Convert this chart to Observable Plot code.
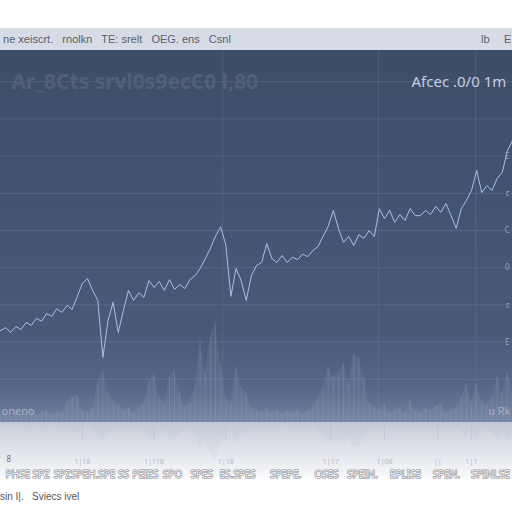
<!DOCTYPE html>
<html><head><meta charset="utf-8">
<script src="https://cdn.jsdelivr.net/npm/d3@7"></script>
<script src="https://cdn.jsdelivr.net/npm/@observablehq/plot@0.6"></script>
<style>
body{margin:0;background:#fff;width:512px;height:512px;overflow:hidden;position:relative;font-family:"Liberation Sans","DejaVu Sans",sans-serif;}
#bar{position:absolute;left:0;top:28px;width:512px;height:22px;background:#d6dbe5;color:#5a5f6b;font-size:11px;line-height:22px;white-space:nowrap;}
#bar .r{position:absolute;top:0;}
#chart{position:absolute;left:0;top:50px;}
#foot{position:absolute;left:0;top:491px;font-size:10px;color:#555;}
</style></head>
<body>
<div id="bar">&nbsp;ne xeiscrt.&nbsp;&nbsp; rnolkn&nbsp;&nbsp; TE: srelt&nbsp;&nbsp; OEG. ens&nbsp;&nbsp; Csnl<span class="r" style="left:481px">lb</span><span class="r" style="left:504px">E</span></div>
<div id="chart"></div>
<div id="foot">sin I|.&nbsp;&nbsp; Sviecs ivel</div>
<script>
const price = [43.1,43.9,42.6,44.2,43.4,45.3,44.5,46.4,45.6,47.7,
46.9,49.0,48.0,49.9,48.8,52.3,55.8,57.1,53.9,51.2,
35.9,45.8,50.7,42.6,48.5,53.9,51.2,53.3,52.0,56.6,
54.7,56.3,53.9,56.8,54.2,55.5,54.4,56.8,57.9,59.8,
62.5,65.2,68.5,71.0,66.2,52.3,59.8,56.6,51.2,57.9,
60.6,61.4,66.5,62.5,61.4,63.3,61.4,62.8,62.2,63.6,
63.0,64.6,65.7,68.4,71.1,75.4,70.6,66.8,68.4,66.0,
68.9,67.9,70.0,68.4,75.9,73.2,75.4,72.2,74.3,72.7,
75.9,74.0,74.0,75.4,74.3,76.5,74.9,77.3,74.0,70.6,
75.9,78.1,80.8,86.1,80.2,82.1,80.8,84.0,85.6,91.5,94.2];
const volume = [8,10,6,12,8,9,14,7,10,12,8,11,9,
20,25,28,12,10,14,40,52,
30,22,18,12,15,10,14,20,40,48,
25,18,45,52,30,15,20,35,82,50,
85,100,60,25,20,55,35,30,15,12,
10,14,10,12,9,11,10,13,8,12,
15,25,35,55,45,50,59,40,69,65,
45,20,15,12,18,10,12,15,10,22,
12,10,14,12,16,19,10,12,15,25,
39,20,39,22,18,25,45,30,50,35];
const yTicks = [20,30,40,50,60,70,80,90,100,110];
const yTickLabels = ["","","E","c","0","C","c","E","",""];
const xGrid = [43.4,73.8,92.8];
const xMinor = [16,30,44,64.5,75,85.4,92];
const xMinorLabels = ["1|18","1|118","1|18","1|17","1|08","||","1|1"];
const xTicks = [5.3,16.4,24,28.3,33.6,39.3,46.3,55.7,63.7,70.7,79.1,87.1,95.7];
const xTickLabels = ["PHSE SPZ","SPZSPEH.SPE","SS","PEIES","SPO","SPES","ES.SPES","SPEPE.","OSES","SPEIN.","EPLISE","SPEN.","SPINLSE"];
const titleLeft = "Ar_8Cts srvl0s9ecC0 l,80";
const titleRight = "Afcec .0/0 1m";

const yLo = 18.4, yHi = 118.4;
const rows = price.map((p, i) => ({i, p, v: volume[i]}));
const volY = v => yLo + v * 0.27;
const refY = v => yLo - v * 0.1;

const chart = Plot.plot({
  width: 512, height: 432,
  marginTop: 0, marginLeft: 0, marginRight: 0, marginBottom: 60,
  x: {domain: [0, 100], axis: null},
  y: {domain: [yLo, yHi], axis: null},
  marks: [
    Plot.ruleY(yTicks, {stroke: "#7f90ad", strokeOpacity: 0.3}),
    Plot.ruleX(xGrid, {y1: yLo, y2: yHi, stroke: "#7f90ad", strokeOpacity: 0.25}),
    Plot.ruleX(xMinor, {y1: yLo, y2: yLo - 4.8, stroke: "#b7bfcc", strokeOpacity: 0.5}),
    Plot.areaY(rows, {x: "i", y1: yLo, y2: d => volY(d.v), fill: "#b3c0d6", fillOpacity: 0.1}),
    Plot.ruleX(rows, {x: "i", y1: yLo, y2: d => volY(d.v), stroke: "#c0cbdd", strokeOpacity: 0.15}),
    Plot.areaY(rows, {x: "i", y1: yLo, y2: d => refY(d.v), fill: "#a4afc2", fillOpacity: 0.1}),
    Plot.lineY(rows, {x: "i", y: "p", stroke: "#a8c0e6", strokeWidth: 1}),
    Plot.text([titleLeft], {frameAnchor: "top-left", dx: 11, dy: 24, text: d => d, fill: "#506079", fontSize: 21, fontWeight: "bold"}),
    Plot.text([titleRight], {frameAnchor: "top-left", dx: 411, dy: 26, text: d => d, fill: "#c6cee0", fontSize: 15}),
    Plot.text(yTicks, {x: 100, y: d => d, text: (d, k) => yTickLabels[k], dx: -3, textAnchor: "end", fill: "#94a2ba", fontSize: 8}),
    Plot.text(["oneno"], {frameAnchor: "bottom-left", dx: 1, dy: -8, text: d => d, fill: "#a3aec1", fontSize: 11}),
    Plot.text(["u Rk"], {frameAnchor: "bottom-right", dx: -2, dy: -8, text: d => d, fill: "#a3aec1", fontSize: 11}),
    Plot.text(xMinor, {x: d => d, y: yLo, text: (d, k) => xMinorLabels[k], dy: 39, fill: "#b0b7c3", fontSize: 7}),
    Plot.text(["8"], {frameAnchor: "bottom-left", dx: 6, dy: 39, text: d => d, fill: "#777", fontSize: 8}),
    Plot.text(xTicks, {x: d => d, y: yLo, text: (d, k) => xTickLabels[k], dy: 52, fill: "#f4f4f4", stroke: "#7d828c", strokeWidth: 1.1, fontSize: 10})
  ]
});
chart.style.background = "linear-gradient(to bottom, #3d4d67 0px, #425474 150px, #48597a 280px, #56678a 340px, #7282a0 372px, #c6ccd8 372px, #dfe3ea 400px, #f6f7f9 425px, #ffffff 432px)";
chart.style.overflow = "visible";
document.getElementById("chart").appendChild(chart);
</script>
</body></html>
